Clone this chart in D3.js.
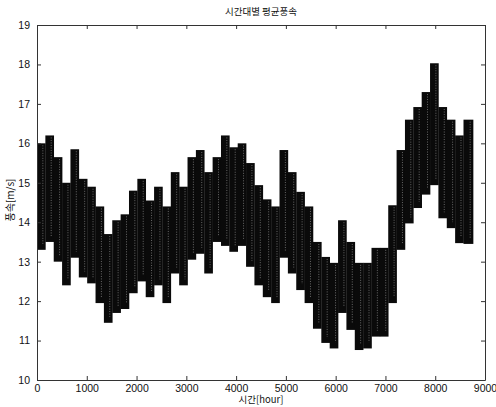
<!DOCTYPE html>
<html>
<head>
<meta charset="utf-8">
<script src="https://cdn.jsdelivr.net/npm/d3@7"></script>
<style>
  body { margin: 0; background: #fff; }
  text { font-family: "Liberation Sans", Arial, sans-serif; fill: #111; }
  .kr { font-family: "Noto Sans CJK KR", sans-serif; }
</style>
</head>
<body>
<div id="chart"></div>
<script>
// weekly blocks (168 h each), upper and lower wind speed in m/s
const weekStart = d3.range(0, 52).map(i => i * 168);
const weekHigh = [16.0, 16.2, 15.65, 15.0, 15.85, 15.1, 14.9, 14.4, 13.7, 14.05,
  14.2, 14.8, 15.1, 14.55, 14.9, 14.4, 15.27, 14.9, 15.65, 15.83,
  15.27, 15.65, 16.2, 15.9, 16.0, 15.5, 14.94, 14.58, 14.4, 15.83,
  15.27, 14.77, 14.4, 13.5, 13.12, 12.97, 14.05, 13.5, 12.97, 12.97,
  13.35, 13.35, 14.43, 15.83, 16.6, 16.92, 17.3, 18.03, 16.92, 16.6,
  16.2, 16.6];
const weekLow = [13.3, 13.5, 13.0, 12.4, 13.1, 12.6, 12.45, 11.95, 11.45, 11.7,
  11.8, 12.2, 12.5, 12.1, 12.4, 11.95, 12.7, 12.4, 13.05, 13.2,
  12.7, 13.5, 13.4, 13.25, 13.4, 12.87, 12.4, 12.1, 11.95, 13.1,
  12.7, 12.28, 11.95, 11.3, 10.94, 10.8, 11.7, 11.27, 10.76, 10.8,
  11.1, 11.1, 11.95, 13.3, 13.97, 14.36, 14.7, 14.94, 14.1, 13.85,
  13.47, 13.45];
const xTicks = [0, 1000, 2000, 3000, 4000, 5000, 6000, 7000, 8000, 9000];
const yTicks = [10, 11, 12, 13, 14, 15, 16, 17, 18, 19];
const lastHour = 8760;

const W = 496, H = 407;
const margin = { top: 25, right: 11, bottom: 27, left: 37 };

const svg = d3.select('#chart').append('svg')
  .attr('width', W)
  .attr('height', H);

const x = d3.scaleLinear().domain([0, 9000]).range([margin.left, W - margin.right]);
const y = d3.scaleLinear().domain([10, 19]).range([H - margin.bottom, margin.top]);

function blockEnd(d, i) {
  return i === weekStart.length - 1 ? lastHour : d + 168;
}

// band of weekly min/max
let band = svg.append('g');
band.selectAll('rect')
  .data(weekStart)
  .enter()
  .append('rect')
  .attr('x', d => x(d))
  .attr('width', (d, i) => x(blockEnd(d, i)) - x(d) + 0.3)
  .attr('y', (d, i) => y(weekHigh[i]))
  .attr('height', (d, i) => y(weekLow[i]) - y(weekHigh[i]))
  .style('fill', '#0a0a0a');

// faint light streaks inside each block, like the hourly lines in the scan
band.selectAll('line')
  .data(weekStart)
  .enter()
  .append('line')
  .attr('x1', (d, i) => x(d) + (x(blockEnd(d, i)) - x(d)) * 0.7)
  .attr('x2', (d, i) => x(d) + (x(blockEnd(d, i)) - x(d)) * 0.7)
  .attr('y1', (d, i) => y(weekHigh[i]) + 2)
  .attr('y2', (d, i) => y(weekLow[i]) - 6)
  .style('stroke', '#aaa')
  .style('stroke-width', 0.6)
  .style('stroke-dasharray', '1,1.5');

// axes (ticks inside, matlab style)
const fmt = d3.format('d');
const axisBottom = d3.axisBottom(x).tickValues(xTicks).tickFormat(fmt).tickSizeInner(-4).tickSizeOuter(0).tickPadding(5);
const axisLeft = d3.axisLeft(y).tickValues(yTicks).tickFormat(fmt).tickSizeInner(-4).tickSizeOuter(0).tickPadding(7);
const axisTop = d3.axisTop(x).tickValues(xTicks).tickSizeInner(-4).tickSizeOuter(0).tickFormat('');
const axisRight = d3.axisRight(y).tickValues(yTicks).tickSizeInner(-4).tickSizeOuter(0).tickFormat('');

svg.append('g').attr('transform', `translate(0,${H - margin.bottom})`).call(axisBottom);
svg.append('g').attr('transform', `translate(${margin.left},0)`).call(axisLeft);
svg.append('g').attr('transform', `translate(0,${margin.top})`).call(axisTop);
svg.append('g').attr('transform', `translate(${W - margin.right},0)`).call(axisRight);

svg.selectAll('.domain').style('stroke', '#333').style('stroke-width', 1);
svg.selectAll('.tick line').style('stroke', '#333');
svg.selectAll('.tick text').style('font-size', '10.5px').style('fill', '#111');

svg.append('text')
  .attr('class', 'kr')
  .attr('x', (margin.left + W - margin.right) / 2)
  .attr('y', 15)
  .style('text-anchor', 'middle')
  .style('font-size', '9.5px')
  .text('시간대별 평균풍속');

svg.append('text')
  .attr('class', 'kr')
  .attr('x', (margin.left + W - margin.right) / 2)
  .attr('y', 403)
  .style('text-anchor', 'middle')
  .style('font-size', '9.5px')
  .text('시간[hour]');

svg.append('text')
  .attr('class', 'kr')
  .attr('transform', `translate(14,200) rotate(-90)`)
  .style('text-anchor', 'middle')
  .style('font-size', '10px')
  .text('풍속[m/s]');
</script>
</body>
</html>
